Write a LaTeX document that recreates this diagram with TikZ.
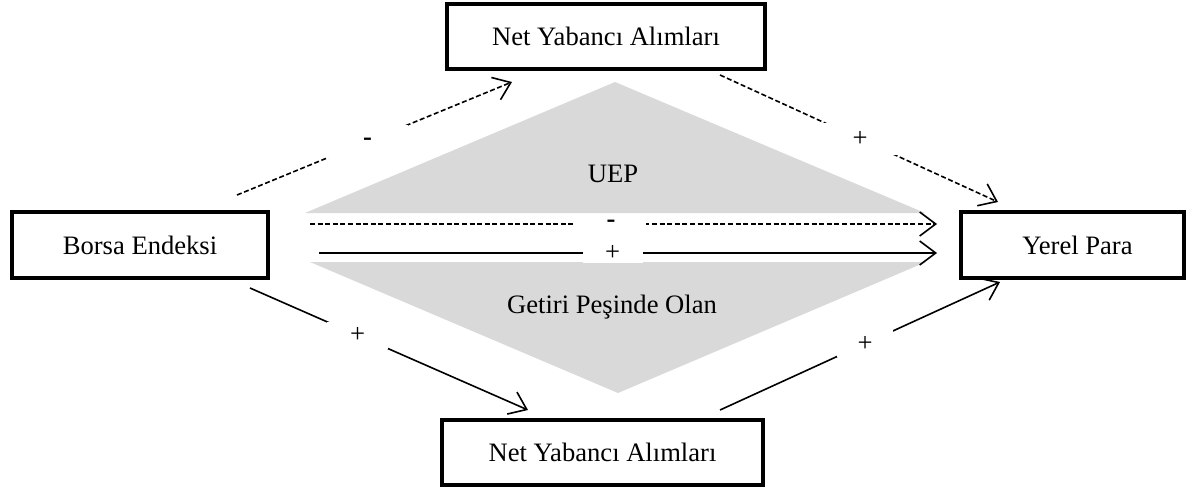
\documentclass[tikz,border=0pt]{standalone}
\usepackage{fontspec}
\setmainfont{Liberation Serif}
\usetikzlibrary{arrows.meta}
\definecolor{trigray}{HTML}{D9D9D9}
\tikzset{
  fnt/.style={font=\fontsize{13.3pt}{16pt}\selectfont},
  box/.style={draw, line width=2pt, rectangle, inner sep=0pt, fnt},
  conn/.style={line width=0.8pt, -{Straight Barb[length=8pt,width=12pt,line width=0.8pt]}},
  dashconn/.style={conn, dash pattern=on 2.5pt off 1.3pt},
  gaplabel/.style={fill=white, inner sep=0pt, fnt},
  txt/.style={fnt}
}
\begin{document}
\begin{tikzpicture}[x=0.5pt,y=-0.5pt]
\useasboundingbox (0,0) rectangle (1192,488);
% gray triangles
\fill[trigray] (305,213) -- (615,82) -- (925,213) -- cycle;
\fill[trigray] (310,262) -- (926,262) -- (618,393) -- cycle;
% boxes
\node[box, minimum width=128pt, minimum height=33pt] (borsa) at (140,245) {Borsa Endeksi};
\node[box, minimum width=159pt, minimum height=32.5pt] (top) at (606,36.5) {Net Yabancı Alımları};
\node[box, minimum width=160.5pt, minimum height=32.5pt] (bot) at (602.5,452.5) {Net Yabancı Alımları};
\node[box, minimum width=111.5pt, minimum height=33pt] (yerel) at (1072.5,245) {\hspace*{5pt}Yerel Para};
% texts in the gray areas
\node[txt, anchor=base] (uep) at (613,182) {UEP};
\node[txt, anchor=base] (getiri) at (612,313) {Getiri Peşinde Olan};
% connector end points
\coordinate (a1s) at (237,195);  \coordinate (a1e) at (512,82);
\coordinate (a2s) at (720,75);   \coordinate (a2e) at (998,202);
\coordinate (a3s) at (250,288);  \coordinate (a3e) at (528,410);
\coordinate (a4s) at (720,410);  \coordinate (a4e) at (1000,282);
\coordinate (h1s) at (310,224);  \coordinate (h1e) at (937,224);
\coordinate (h2s) at (319,253);  \coordinate (h2e) at (937,253);
% connectors
\draw[dashconn] (a1s) -- node[gaplabel, pos=0.475, minimum width=40.5pt, minimum height=16.5pt] (l1) {\textbf{-}} (a1e);
\draw[dashconn] (a2s) -- node[gaplabel, pos=0.504, minimum width=37pt, minimum height=16pt] (l2) {+} (a2e);
\draw[conn] (a3s) -- node[gaplabel, pos=0.387, minimum width=30.5pt, minimum height=13.5pt] (l3) {+} (a3e);
\draw[conn] (a4s) -- node[gaplabel, pos=0.518, minimum width=28pt, minimum height=13.5pt] (l4) {+} (a4e);
\draw[dashconn] (h1s) -- node[gaplabel, pos=0.48, minimum width=35.5pt, minimum height=10pt] (l5) {\textbf{-}} (h1e);
\draw[conn] (h2s) -- node[gaplabel, pos=0.475, minimum width=30pt, minimum height=10pt] (l6) {+} (h2e);
\end{tikzpicture}
\end{document}
